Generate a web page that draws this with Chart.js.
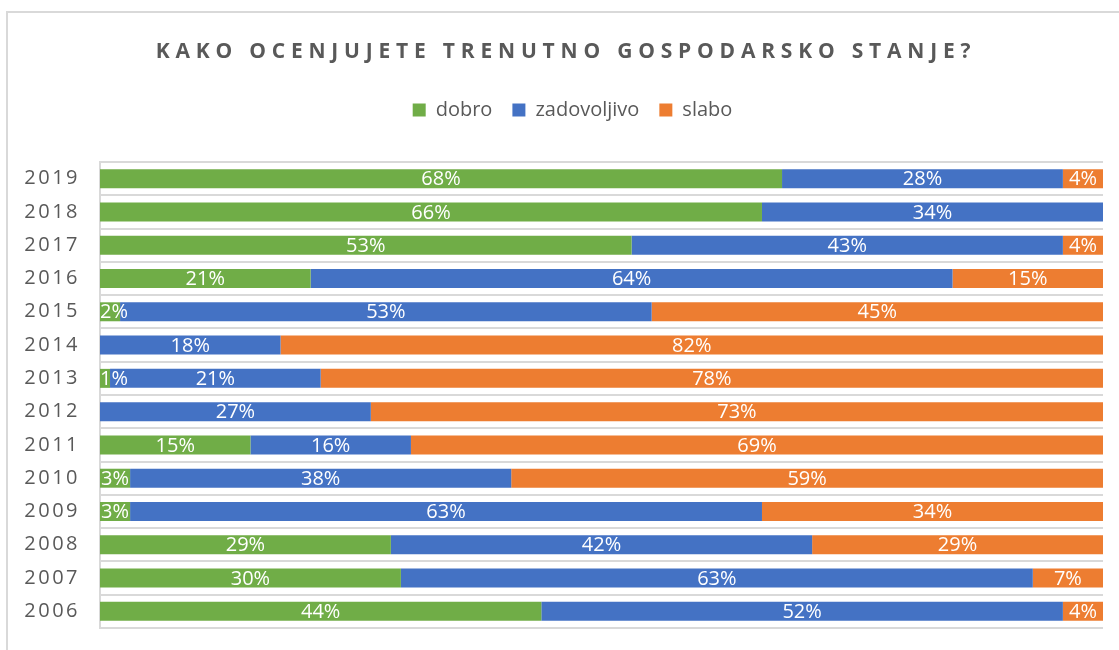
<!DOCTYPE html>
<html>
<head>
    <title>Gospodarsko stanje</title>
    <script src="https://cdn.jsdelivr.net/npm/chart.js"></script>
    <style>
        body { margin: 0; background: #fff; }
        .frame {
            position: absolute; left: 6px; top: 11px;
            width: 1200px; height: 700px;
            border: 2px solid #d9d9d9;
        }
        .title {
            position: absolute; left: 0; top: 38px; width: 1132px;
            text-align: center;
            font: bold 21px "Open Sans", sans-serif;
            line-height: 24px;
            letter-spacing: 5.8px;
            color: #595959;
        }
        .chart-container {
            position: absolute; left: 0; top: 0;
            width: 1119px; height: 650px;
        }
    </style>
</head>
<body>
    <div class="frame"></div>
    <div class="chart-container">
        <canvas id="stanjeChart" width="1119" height="650"></canvas>
    </div>
    <div class="title">KAKO OCENJUJETE TRENUTNO GOSPODARSKO STANJE?</div>

    <script>
var years = ['2019', '2018', '2017', '2016', '2015', '2014', '2013',
             '2012', '2011', '2010', '2009', '2008', '2007', '2006'];
var dobro       = [68, 66, 53, 21,  2,  0,  1,  0, 15,  3,  3, 29, 30, 44];
var zadovoljivo = [28, 34, 43, 64, 53, 18, 21, 27, 16, 38, 63, 42, 63, 52];
var slabo       = [ 4,  0,  4, 15, 45, 82, 78, 73, 69, 59, 34, 29,  7,  4];

// white percentage labels in the middle of each segment
var barLabels = {
    id: 'barLabels',
    afterLayout: function(chart) {
        // nudge the legend a bit right, like the original
        chart.legend.left += 9;
        chart.legend.right += 9;
    },
    afterDatasetsDraw: function(chart) {
        var ctx = chart.ctx;
        var area = chart.chartArea;
        ctx.save();
        ctx.letterSpacing = '0px';
        ctx.font = '20px "Open Sans"';
        ctx.fillStyle = '#ffffff';
        ctx.textAlign = 'center';
        ctx.textBaseline = 'middle';
        chart.data.datasets.forEach(function(ds, i) {
            var meta = chart.getDatasetMeta(i);
            meta.data.forEach(function(bar, j) {
                var v = ds.data[j];
                if (!v) return;
                var txt = v + '%';
                var w = ctx.measureText(txt).width;
                var x = (bar.x + bar.base) / 2;
                if (x - w / 2 < area.left) x = area.left + w / 2;
                ctx.fillText(txt, x, bar.y + 1);
            });
        });
        ctx.restore();
        // the year ticks are drawn after this (ticks.z = 1), spaced out
        ctx.letterSpacing = '2.5px';
    },
    afterDraw: function(chart) {
        chart.ctx.letterSpacing = '0px';
    }
};

var ctx = document.getElementById('stanjeChart');
new Chart(ctx, {
    type: 'bar',
    data: {
        labels: years,
        datasets: [
            { label: 'dobro', data: dobro, backgroundColor: '#70ad47', borderWidth: 0 },
            { label: 'zadovoljivo', data: zadovoljivo, backgroundColor: '#4472c4', borderWidth: 0 },
            { label: 'slabo', data: slabo, backgroundColor: '#ed7d31', borderWidth: 0 }
        ]
    },
    options: {
        indexAxis: 'y',
        responsive: false,
        animation: false,
        events: [],
        barPercentage: 0.57,
        categoryPercentage: 1,
        layout: { padding: { top: 80, left: 24, right: 16, bottom: 22 } },
        plugins: {
            title: { display: false },
            tooltip: { enabled: false },
            legend: {
                position: 'top',
                labels: {
                    boxWidth: 13,
                    boxHeight: 13,
                    padding: 20,
                    color: '#595959',
                    font: { family: 'Open Sans', size: 20 }
                }
            }
        },
        scales: {
            x: {
                stacked: true,
                position: 'top',
                min: 0,
                max: 100,
                ticks: { display: false },
                grid: { display: false },
                border: { display: false },
                afterFit: function(scale) { scale.height = 32; }
            },
            y: {
                stacked: true,
                grid: { color: '#d9d9d9', lineWidth: 2, drawTicks: false, offset: true },
                border: { color: '#d9d9d9', width: 2 },
                ticks: {
                    z: 1,
                    padding: 20,
                    color: '#595959',
                    font: { family: 'Open Sans', size: 20 }
                },
                afterFit: function(scale) {
                    scale.width = 76;
                    scale.paddingTop = 0;
                    scale.paddingBottom = 0;
                }
            }
        }
    },
    plugins: [barLabels]
});
    </script>
</body>
</html>
